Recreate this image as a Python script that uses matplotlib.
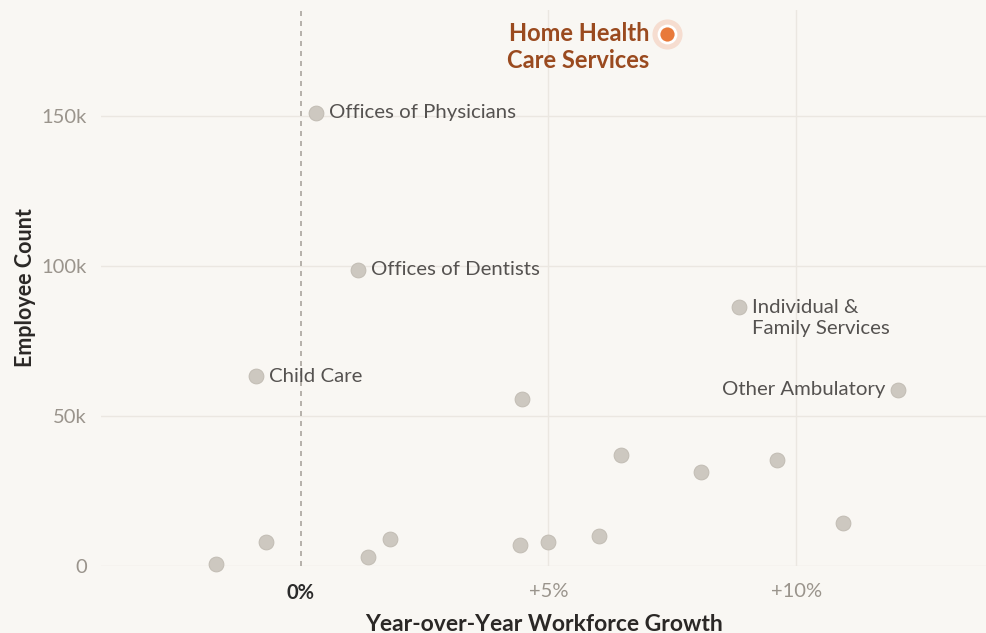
import matplotlib
matplotlib.use("Agg")
import matplotlib.pyplot as plt
from matplotlib.ticker import FuncFormatter

# ---- data ----
labels = ["Home Health\nCare Services", "Offices of Physicians", "Offices of Dentists",
          "Individual &\nFamily Services", "Other Ambulatory", "Child Care",
          "", "", "", "", "", "", "", "", "", "", "", ""]
growth = [7.40, 0.30, 1.15, 8.85, 12.06, -0.91,
          4.46, 6.47, 8.08, 9.62, 10.95, -1.71, -0.71, 1.35, 1.81, 4.42, 5.00, 6.03]
employees = [177.3, 151.0, 98.7, 86.3, 58.7, 63.3,
             55.7, 37.0, 31.3, 35.3, 14.3, 0.7, 8.0, 3.0, 9.0, 7.0, 8.0, 10.0]
highlight = "Home Health\nCare Services"
xticks = [0, 5, 10]
yticks = [0, 50, 100, 150]

BG = "#f9f7f3"
GRID = "#ebe7e1"
DOT = "#cdc8c0"
DOT_EDGE = "#bfb9b0"
ORANGE = "#e8793a"
BROWN = "#9a4a1f"
LABEL = "#555250"
TICK = "#9a948c"

plt.rcParams['font.family'] = ['Lato', 'DejaVu Sans']

fig = plt.figure(figsize=(9.87, 6.33), dpi=100, facecolor=BG)
ax = fig.add_axes([101/987, 67/633, 886/987, 556/633], facecolor=BG)

ax.set_xlim(-4.03, 13.85)
ax.set_ylim(0, 185.3)

for s in ax.spines.values():
    s.set_visible(False)

ax.set_xticks(xticks)
ax.set_yticks(yticks)
ax.xaxis.set_major_formatter(FuncFormatter(lambda v, p: "0%" if v == 0 else f"+{v:g}%"))
ax.yaxis.set_major_formatter(FuncFormatter(lambda v, p: "0" if v == 0 else f"{v:g}k"))
ax.tick_params(length=0, labelsize=14.5, colors=TICK)
ax.tick_params(axis='x', pad=12)
ax.tick_params(axis='y', pad=10)
for t in ax.get_xticklabels():
    if t.get_text() == "0%":
        t.set_color("#2b2b2b")
        t.set_fontweight("bold")

for y in yticks:
    ax.axhline(y, color=GRID, lw=1, zorder=0)
for x in xticks:
    if x != 0:
        ax.axvline(x, color=GRID, lw=1, zorder=0)
ax.axvline(0, color="#aaa59e", lw=1.2, ls=(0, (3, 3)), zorder=1)

ax.set_xlabel("Year-over-Year Workforce Growth", fontsize=16.5, fontweight="bold",
              color="#2b2826", labelpad=8)
ax.set_ylabel("Employee Count", fontsize=15.5, fontweight="bold", color="#2b2826",
              labelpad=4)

for lab, x, y in zip(labels, growth, employees):
    if lab == highlight:
        ax.scatter([x], [y], s=470, color="#f6ddd0", zorder=3, clip_on=False, lw=0)
        ax.scatter([x], [y], s=150, color=ORANGE, edgecolor="white", lw=2, zorder=4,
                   clip_on=False)
        ax.annotate(lab, (x, y), xytext=(-18, -13), textcoords="offset pixels",
                    ha="right", va="center", fontsize=17, fontweight="bold",
                    color=BROWN, linespacing=1.2)
    else:
        ax.scatter([x], [y], s=115, color=DOT, edgecolor=DOT_EDGE, lw=0.6, zorder=3,
                   clip_on=False)
        if lab:
            if lab == "Other Ambulatory":
                ax.annotate(lab, (x, y), xytext=(-13, 0), textcoords="offset pixels",
                            ha="right", va="center", fontsize=14.7, color=LABEL)
            elif "\n" in lab:
                ax.annotate(lab, (x, y), xytext=(13, -11), textcoords="offset pixels",
                            ha="left", va="center", fontsize=14.7, color=LABEL,
                            linespacing=1.3)
            else:
                ax.annotate(lab, (x, y), xytext=(13, 0), textcoords="offset pixels",
                            ha="left", va="center", fontsize=14.7, color=LABEL)

fig.savefig("out.png", dpi=100, facecolor=BG)
